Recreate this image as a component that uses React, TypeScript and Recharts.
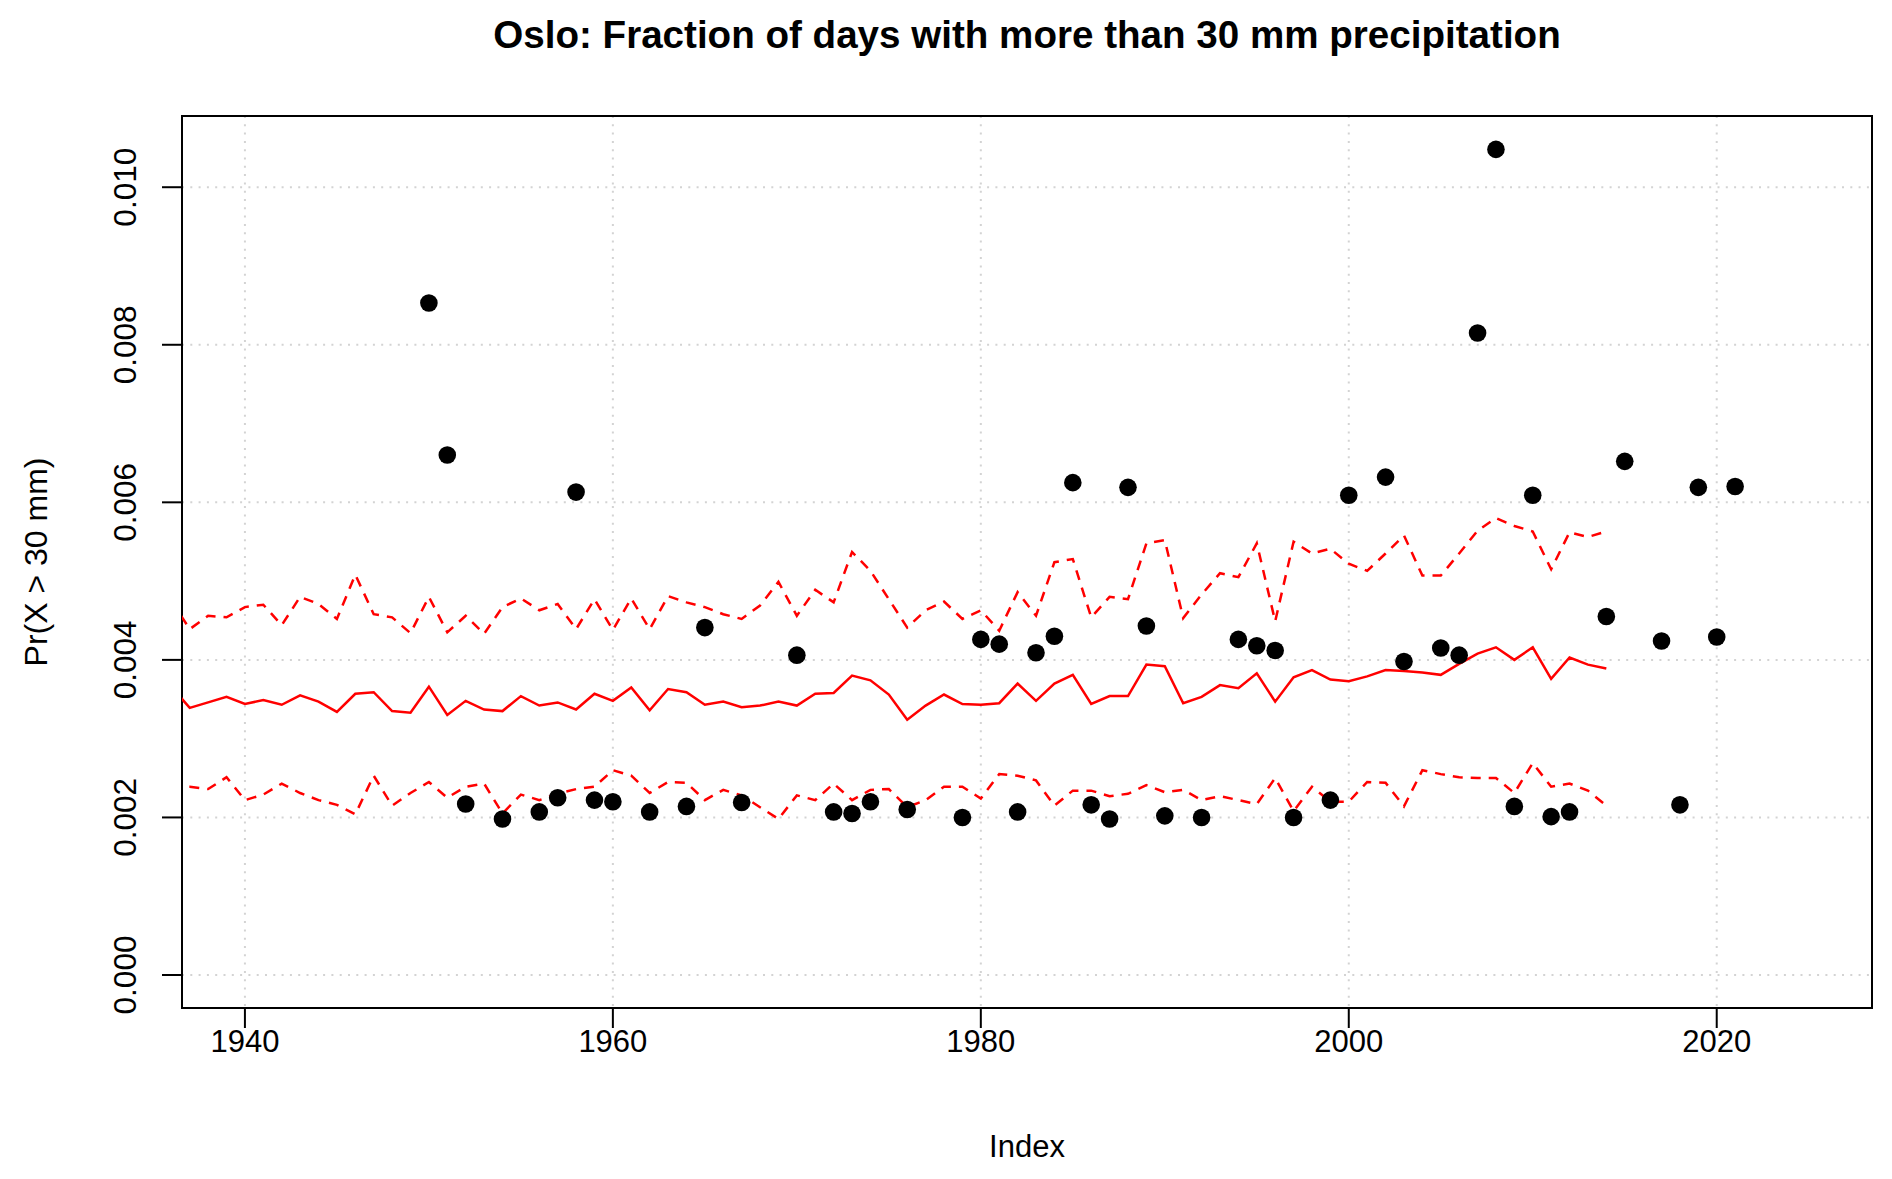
import React from 'react';
import { ComposedChart, Line, Scatter, XAxis, YAxis, CartesianGrid, ReferenceArea } from 'recharts';

// years for the fitted curves (first year falls just left of the plot and is clipped)
const lineYears = [
  1936, 1937, 1938, 1939, 1940, 1941, 1942, 1943, 1944, 1945,
  1946, 1947, 1948, 1949, 1950, 1951, 1952, 1953, 1954, 1955,
  1956, 1957, 1958, 1959, 1960, 1961, 1962, 1963, 1964, 1965,
  1966, 1967, 1968, 1969, 1970, 1971, 1972, 1973, 1974, 1975,
  1976, 1977, 1978, 1979, 1980, 1981, 1982, 1983, 1984, 1985,
  1986, 1987, 1988, 1989, 1990, 1991, 1992, 1993, 1994, 1995,
  1996, 1997, 1998, 1999, 2000, 2001, 2002, 2003, 2004, 2005,
  2006, 2007, 2008, 2009, 2010, 2011, 2012, 2013, 2014,
];

// values below are in units of 1e-3
const midProb = [
  3.66, 3.39, 3.46, 3.53, 3.44, 3.49, 3.43, 3.55, 3.47, 3.34,
  3.57, 3.59, 3.35, 3.33, 3.66, 3.30, 3.48, 3.37, 3.35, 3.54,
  3.42, 3.46, 3.37, 3.57, 3.48, 3.65, 3.36, 3.63, 3.59, 3.43,
  3.47, 3.40, 3.42, 3.47, 3.42, 3.57, 3.58, 3.80, 3.74, 3.56,
  3.24, 3.42, 3.56, 3.44, 3.43, 3.45, 3.70, 3.48, 3.70, 3.81,
  3.44, 3.54, 3.54, 3.94, 3.92, 3.45, 3.53, 3.68, 3.64, 3.83,
  3.47, 3.78, 3.87, 3.75, 3.73, 3.79, 3.87, 3.86, 3.84, 3.81,
  3.95, 4.08, 4.16, 4.00, 4.16, 3.76, 4.03, 3.94, 3.89,
];

const upperProb = [
  4.75, 4.39, 4.56, 4.54, 4.67, 4.70, 4.44, 4.80, 4.71, 4.52,
  5.08, 4.58, 4.54, 4.34, 4.80, 4.35, 4.56, 4.33, 4.67, 4.78,
  4.63, 4.71, 4.39, 4.77, 4.38, 4.78, 4.39, 4.81, 4.73, 4.67,
  4.58, 4.52, 4.69, 4.99, 4.56, 4.89, 4.73, 5.37, 5.13, 4.77,
  4.41, 4.63, 4.74, 4.52, 4.63, 4.37, 4.86, 4.56, 5.24, 5.28,
  4.54, 4.80, 4.77, 5.48, 5.52, 4.53, 4.83, 5.10, 5.05, 5.48,
  4.49, 5.50, 5.35, 5.41, 5.22, 5.13, 5.35, 5.58, 5.07, 5.07,
  5.35, 5.64, 5.80, 5.70, 5.63, 5.15, 5.62, 5.56, 5.63,
];

const lowerProb = [
  2.39, 2.39, 2.36, 2.51, 2.22, 2.29, 2.43, 2.31, 2.22, 2.16,
  2.04, 2.53, 2.15, 2.31, 2.45, 2.25, 2.39, 2.43, 2.05, 2.29,
  2.22, 2.30, 2.36, 2.39, 2.60, 2.53, 2.31, 2.45, 2.44, 2.22,
  2.35, 2.28, 2.13, 1.98, 2.28, 2.22, 2.43, 2.22, 2.35, 2.36,
  2.13, 2.22, 2.39, 2.39, 2.24, 2.55, 2.53, 2.47, 2.15, 2.34,
  2.34, 2.27, 2.30, 2.41, 2.32, 2.35, 2.22, 2.27, 2.22, 2.17,
  2.50, 2.08, 2.39, 2.20, 2.20, 2.45, 2.44, 2.14, 2.60, 2.55,
  2.51, 2.50, 2.50, 2.31, 2.69, 2.39, 2.43, 2.34, 2.15,
];

// observed yearly fractions (only years with a value are plotted)
const pointYears = [
  1950, 1951, 1952, 1954, 1956, 1957, 1958, 1959, 1960, 1962,
  1964, 1965, 1967, 1970, 1972, 1973, 1974, 1976, 1979, 1980,
  1981, 1982, 1983, 1984, 1985, 1986, 1987, 1988, 1989, 1990,
  1992, 1994, 1995, 1996, 1997, 1999, 2000, 2002, 2003, 2005,
  2006, 2007, 2008, 2009, 2010, 2011, 2012, 2014, 2015, 2017,
  2018, 2019, 2020, 2021,
];
const pointProb = [
  8.53, 6.60, 2.17, 1.98, 2.07, 2.25, 6.13, 2.22, 2.20, 2.07,
  2.14, 4.41, 2.19, 4.06, 2.07, 2.05, 2.20, 2.10, 2.00, 4.26,
  4.20, 2.07, 4.09, 4.30, 6.25, 2.16, 1.98, 6.19, 4.43, 2.02,
  2.00, 4.26, 4.18, 4.12, 2.00, 2.22, 6.09, 6.32, 3.98, 4.15,
  4.06, 8.15, 10.48, 2.14, 6.09, 2.01, 2.07, 4.55, 6.52, 4.24,
  2.16, 6.19, 4.29, 6.20,
];

const xTicks = [1940, 1960, 1980, 2000, 2020];
const yTicks = [0, 0.002, 0.004, 0.006, 0.008, 0.01];
const xDomain: [number, number] = [1936.58, 2028.44];
const yDomain: [number, number] = [-0.000419, 0.010904];

const lineRows = lineYears.map((year, i) => ({
  year,
  mid: midProb[i] / 1000,
  upper: upperProb[i] / 1000,
  lower: lowerProb[i] / 1000,
}));
const pointRows = pointYears.map((year, i) => ({ year, p: pointProb[i] / 1000 }));

const FONT = '"Liberation Sans", Arial, Helvetica, sans-serif';

const YTick = (props: any) => {
  const { x, y, payload } = props;
  const tx = x - 26;
  return (
    <text x={tx} y={y} transform={`rotate(-90, ${tx}, ${y})`} textAnchor="middle"
      fontSize={31.5} fontFamily={FONT} fill="#000">
      {Number(payload.value).toFixed(3)}
    </text>
  );
};

const Dot = (props: any) => <circle cx={props.cx} cy={props.cy} r={8.8} fill="#000" />;

export default function App() {
  return (
    <div style={{ position: 'absolute', left: 0, top: 0, width: 1892, height: 1179, background: '#fff', fontFamily: FONT }}>
      <ComposedChart width={1892} height={1179} data={lineRows}
        margin={{ top: 116, right: 20, bottom: 101, left: 0 }}>
        <CartesianGrid stroke="#d3d3d3" strokeWidth={2} strokeDasharray="2 6.3" />
        <XAxis dataKey="year" type="number" domain={xDomain} ticks={xTicks} allowDataOverflow
          height={70} axisLine={false} tickSize={20} tickMargin={2}
          tickLine={{ stroke: '#000', strokeWidth: 2 }}
          tick={{ fill: '#000', fontSize: 31, fontFamily: FONT }} />
        <YAxis type="number" domain={yDomain} ticks={yTicks} allowDataOverflow
          width={182} axisLine={false} tickSize={20} tickMargin={0}
          tickLine={{ stroke: '#000', strokeWidth: 2 }} tick={<YTick />} />
        <ReferenceArea x1={xDomain[0]} x2={xDomain[1]} y1={yDomain[0]} y2={yDomain[1]}
          fill="none" fillOpacity={0} stroke="#000" strokeWidth={2} ifOverflow="visible" />
        <Line type="linear" dataKey="upper" stroke="#ff0000" strokeWidth={2.5} strokeDasharray="10 8"
          dot={false} activeDot={false} isAnimationActive={false} />
        <Line type="linear" dataKey="mid" stroke="#ff0000" strokeWidth={2.5}
          dot={false} activeDot={false} isAnimationActive={false} />
        <Line type="linear" dataKey="lower" stroke="#ff0000" strokeWidth={2.5} strokeDasharray="10 8"
          dot={false} activeDot={false} isAnimationActive={false} />
        <Scatter data={pointRows} dataKey="p" shape={<Dot />} isAnimationActive={false} />
      </ComposedChart>
      <svg width={1892} height={1179} style={{ position: 'absolute', left: 0, top: 0, pointerEvents: 'none' }}>
        <text x={1027} y={34} textAnchor="middle" dominantBaseline="central" fontSize={38.6}
          fontWeight="bold" fontFamily={FONT} fill="#000">
          Oslo: Fraction of days with more than 30 mm precipitation
        </text>
        <text x={1027} y={1146} textAnchor="middle" dominantBaseline="central" fontSize={31}
          fontFamily={FONT} fill="#000">
          Index
        </text>
        <text x={36} y={562} transform="rotate(-90, 36, 562)" textAnchor="middle" dominantBaseline="central"
          fontSize={32} fontFamily={FONT} fill="#000">
          Pr(X &gt; 30 mm)
        </text>
      </svg>
    </div>
  );
}
